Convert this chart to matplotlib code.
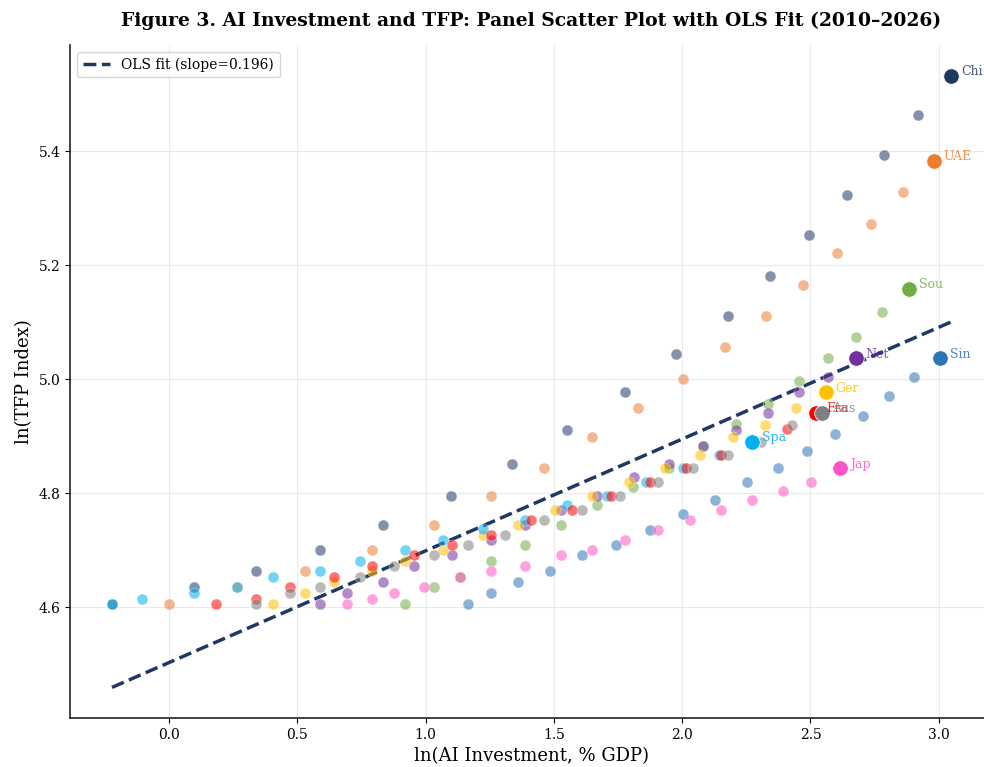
import numpy as np
import matplotlib
matplotlib.use("Agg")
import matplotlib.pyplot as plt

plt.rcParams['font.family'] = ['DejaVu Serif']

countries = ["China", "UAE", "Singapore", "South Korea", "Netherlands",
             "Germany", "Japan", "Spain", "France", "Australia"]
colors = ["#1f3864", "#ed7d31", "#2e75b6", "#70ad47", "#7030a0",
          "#ffc000", "#ff55c4", "#00b0f0", "#ff0000", "#808080"]

# ln(AI investment, % GDP), 2010..2026
ai_china = [-0.223, 0.095, 0.338, 0.588, 0.832, 1.099, 1.336, 1.549, 1.777, 1.974, 2.178, 2.344, 2.496, 2.642, 2.788, 2.921, 3.048]
ai_uae = [0.0, 0.263, 0.530, 0.789, 1.031, 1.253, 1.460, 1.649, 1.827, 2.004, 2.166, 2.325, 2.470, 2.605, 2.736, 2.861, 2.981]
ai_singapore = [1.164, 1.253, 1.361, 1.484, 1.610, 1.743, 1.873, 2.004, 2.129, 2.253, 2.372, 2.487, 2.597, 2.704, 2.805, 2.905, 3.005]
ai_korea = [0.918, 1.031, 1.132, 1.253, 1.388, 1.528, 1.669, 1.810, 1.947, 2.080, 2.211, 2.335, 2.455, 2.569, 2.677, 2.780, 2.884]
ai_netherlands = [0.588, 0.692, 0.832, 0.955, 1.101, 1.253, 1.388, 1.529, 1.669, 1.811, 1.947, 2.081, 2.211, 2.335, 2.455, 2.569, 2.677]
ai_germany = [0.406, 0.530, 0.643, 0.789, 0.918, 1.066, 1.224, 1.361, 1.504, 1.649, 1.794, 1.933, 2.068, 2.198, 2.324, 2.443, 2.559]
ai_japan = [0.692, 0.789, 0.876, 0.995, 1.132, 1.253, 1.388, 1.528, 1.649, 1.777, 1.904, 2.031, 2.152, 2.273, 2.391, 2.504, 2.615]
ai_spain = [-0.223, -0.106, 0.095, 0.263, 0.406, 0.588, 0.744, 0.918, 1.066, 1.224, 1.388, 1.549, 1.705, 1.859, 2.004, 2.142, 2.274]
ai_france = [0.182, 0.338, 0.470, 0.643, 0.789, 0.955, 1.101, 1.253, 1.412, 1.570, 1.724, 1.873, 2.016, 2.152, 2.275, 2.409, 2.522]
ai_australia = [0.338, 0.470, 0.588, 0.744, 0.876, 1.031, 1.164, 1.310, 1.460, 1.610, 1.759, 1.904, 2.044, 2.178, 2.306, 2.427, 2.546]

# ln(TFP index), 2010..2026
tfp_china = [4.605, 4.635, 4.664, 4.701, 4.745, 4.796, 4.852, 4.912, 4.977, 5.044, 5.112, 5.182, 5.253, 5.323, 5.394, 5.464, 5.533]
tfp_uae = [4.605, 4.635, 4.664, 4.701, 4.745, 4.796, 4.844, 4.898, 4.949, 5.000, 5.056, 5.112, 5.165, 5.221, 5.273, 5.328, 5.384]
tfp_singapore = [4.605, 4.625, 4.645, 4.664, 4.691, 4.709, 4.736, 4.763, 4.788, 4.8205, 4.844, 4.875, 4.905, 4.935, 4.970, 5.004, 5.037]
tfp_korea = [4.605, 4.635, 4.654, 4.682, 4.709, 4.745, 4.779, 4.812, 4.844, 4.883, 4.921, 4.956, 4.997, 5.037, 5.075, 5.118, 5.159]
tfp_netherlands = [4.605, 4.625, 4.645, 4.672, 4.691, 4.719, 4.745, 4.771, 4.796, 4.828, 4.852, 4.883, 4.912, 4.9415, 4.977, 5.004, 5.037]
tfp_germany = [4.605, 4.625, 4.645, 4.664, 4.682, 4.701, 4.7275, 4.745, 4.771, 4.796, 4.8205, 4.844, 4.868, 4.898, 4.920, 4.949, 4.977]
tfp_japan = [4.605, 4.615, 4.625, 4.635, 4.654, 4.664, 4.672, 4.691, 4.701, 4.718, 4.736, 4.754, 4.771, 4.788, 4.804, 4.8205, 4.844]
tfp_spain = [4.605, 4.615, 4.625, 4.635, 4.654, 4.664, 4.682, 4.701, 4.718, 4.737, 4.754, 4.779, 4.796, 4.8205, 4.844, 4.868, 4.890]
tfp_france = [4.605, 4.615, 4.635, 4.654, 4.672, 4.691, 4.709, 4.7275, 4.754, 4.771, 4.796, 4.8205, 4.844, 4.868, 4.890, 4.913, 4.9415]
tfp_australia = [4.605, 4.625, 4.635, 4.654, 4.672, 4.691, 4.709, 4.7275, 4.754, 4.771, 4.796, 4.8205, 4.844, 4.868, 4.890, 4.920, 4.9415]

ai_all = [ai_china, ai_uae, ai_singapore, ai_korea, ai_netherlands,
          ai_germany, ai_japan, ai_spain, ai_france, ai_australia]
tfp_all = [tfp_china, tfp_uae, tfp_singapore, tfp_korea, tfp_netherlands,
           tfp_germany, tfp_japan, tfp_spain, tfp_france, tfp_australia]

fig = plt.figure(figsize=(9.84, 7.67), dpi=100)
ax = fig.add_axes([70/984, 49/767, 923/984, 673/767])

for name, col, xs, ys in zip(countries, colors, ai_all, tfp_all):
    ax.scatter(xs[:-1], ys[:-1], s=62, color=col, alpha=0.55, edgecolors='white',
               linewidths=0.4, zorder=3)
    ax.scatter([xs[-1]], [ys[-1]], s=125, color=col, alpha=1.0, edgecolors='white',
               linewidths=0.6, zorder=4)
    ax.annotate(name[:3], (xs[-1], ys[-1]), xytext=(7, 3), textcoords='offset points',
                fontsize=9, color=col, alpha=0.85, va='center', ha='left', zorder=5)

x_all = np.concatenate([np.array(v) for v in ai_all])
y_all = np.concatenate([np.array(v) for v in tfp_all])
slope, intercept = np.polyfit(x_all, y_all, 1)
xf = np.array([x_all.min(), x_all.max()])
ax.plot(xf, intercept + slope * xf, linestyle='--', color='#1f3864', linewidth=2.5,
        label=f'OLS fit (slope={slope:.3f})', zorder=2)

ax.set_xticks([0.0, 0.5, 1.0, 1.5, 2.0, 2.5, 3.0])
ax.set_yticks([4.6, 4.8, 5.0, 5.2, 5.4])
ax.grid(True, color='#dddddd', alpha=0.6, linewidth=0.8)
ax.set_axisbelow(True)
for s in ['top', 'right']:
    ax.spines[s].set_visible(False)
for s in ['left', 'bottom']:
    ax.spines[s].set_linewidth(1.2)
    ax.spines[s].set_color('#222222')
ax.tick_params(labelsize=10)

ax.set_xlabel('ln(AI Investment, % GDP)', fontsize=13)
ax.set_ylabel('ln(TFP Index)', fontsize=13)
ax.set_title('Figure 3. AI Investment and TFP: Panel Scatter Plot with OLS Fit (2010–2026)',
             fontsize=13.5, fontweight='bold', pad=14)
ax.legend(loc='upper left', fontsize=10, frameon=True)

fig.savefig('out.png', dpi=100)
